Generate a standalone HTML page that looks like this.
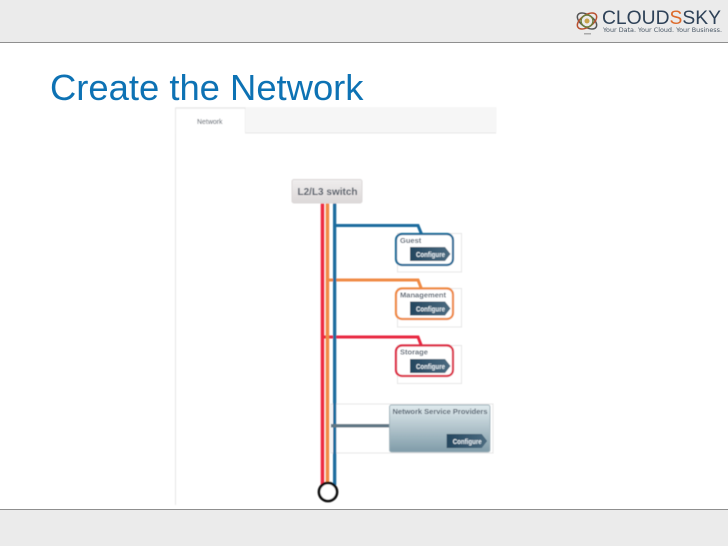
<!DOCTYPE html>
<html><head><meta charset="utf-8"><style>
html,body{margin:0;padding:0;background:#fff}
svg{display:block}
text{font-family:"Liberation Sans",sans-serif}
</style></head><body>
<svg width="728" height="546" viewBox="0 0 728 546" xmlns="http://www.w3.org/2000/svg">
<defs>
<filter id="b5" x="-5%" y="-5%" width="110%" height="110%"><feGaussianBlur stdDeviation="0.4"/></filter>
<filter id="b3" x="-5%" y="-5%" width="110%" height="110%"><feGaussianBlur stdDeviation="0.3"/></filter>
<linearGradient id="sw" x1="0" y1="0" x2="0" y2="1"><stop offset="0" stop-color="#efeded"/><stop offset="1" stop-color="#dcd8d8"/></linearGradient>
<linearGradient id="nsp" x1="0" y1="0" x2="0" y2="1"><stop offset="0" stop-color="#e0eaed"/><stop offset="1" stop-color="#7f9ba8"/></linearGradient>
<linearGradient id="btn" x1="0" y1="0" x2="1" y2="0"><stop offset="0" stop-color="#24465f"/><stop offset="1" stop-color="#4b6b80"/></linearGradient>
<g id="cfg"><path d="M0 0H35L40.500 7L35 14H0Z" fill="url(#btn)"/><text x="6" y="10" font-size="7.500" font-weight="bold" fill="#e6eef3" textLength="29" lengthAdjust="spacingAndGlyphs">Configure</text></g>
</defs>
<rect width="728" height="42" fill="#ebebeb"/>
<rect y="42" width="728" height="1" fill="#8f8f8f"/>
<rect y="509" width="728" height="37" fill="#ebebeb"/>
<rect y="509" width="728" height="1" fill="#8f8f8f"/>

<text x="50" y="100" font-size="36.400" fill="#0f72b4" filter="url(#b3)">Create the Network</text>

<!-- logo -->
<g filter="url(#b3)">
<g fill="none" stroke-width="1.500">
<ellipse cx="587" cy="21" rx="11" ry="6" stroke="#555" transform="rotate(35 587 21)"/>
<ellipse cx="587" cy="21" rx="11" ry="6" stroke="#b9502f" transform="rotate(-35 587 21)"/>
<circle cx="587" cy="21" r="6" stroke="#6c7f3c"/>
</g>
<circle cx="587" cy="21" r="2.500" fill="#c8a24a"/>
<rect x="584" y="33" width="7" height="1.500" fill="#aaa"/>
<text x="602" y="24" font-size="19.500" fill="#2f4258" textLength="119" lengthAdjust="spacingAndGlyphs">CLOUD<tspan fill="#dd6a2a">S</tspan>SKY</text>
<text x="603" y="32" font-size="6" fill="#4a5866" style="font-family:'DejaVu Sans',sans-serif" textLength="119" lengthAdjust="spacingAndGlyphs">Your Data. Your Cloud. Your Business.</text>
</g>

<g filter="url(#b5)">
<!-- panel -->
<rect x="175.500" y="107" width="321" height="26" fill="#f6f6f6"/>
<path d="M175.500 505V108H245V133H496" fill="none" stroke="#e6e6e6"/>
<rect x="176" y="109" width="69" height="25" fill="#fff"/>
<text x="197" y="124" font-size="7" fill="#46505c" textLength="25.500" lengthAdjust="spacingAndGlyphs">Network</text>

<!-- white cards -->
<rect x="397.500" y="233.500" width="64" height="38.500" fill="#fff" stroke="#e6e6e6"/>
<rect x="397.500" y="288.500" width="64" height="38.500" fill="#fff" stroke="#e6e6e6"/>
<rect x="397.500" y="345.500" width="64" height="38" fill="#fff" stroke="#e6e6e6"/>
<rect x="331" y="404" width="162" height="49" fill="#fff" stroke="#e6e6e6"/>

<!-- lines -->
<path d="M335 225.500H418L421.500 234" fill="none" stroke="#1c6c9e" stroke-width="3"/>
<path d="M328 280H418L421.500 289" fill="none" stroke="#f08a45" stroke-width="3"/>
<path d="M322 337H418L421.500 346" fill="none" stroke="#e8283f" stroke-width="3"/>
<rect x="320.700" y="203" width="3.500" height="282" fill="#ee2b3f"/>
<rect x="325.700" y="203" width="3.500" height="282" fill="#f08a45"/>
<rect x="333" y="203" width="3.300" height="282" fill="#1c6c9e"/>
<rect x="331" y="424" width="60" height="3.500" fill="#5f7684"/>
<circle cx="328" cy="492" r="9" fill="#fff" stroke="#111" stroke-width="2.800"/>

<!-- switch -->
<rect x="292" y="179.500" width="70" height="23.500" rx="2" fill="url(#sw)" stroke="#dcd8d8"/>
<text x="297.500" y="195" font-size="10" font-weight="bold" fill="#4c5562" textLength="60" lengthAdjust="spacingAndGlyphs">L2/L3 switch</text>

<!-- nodes -->
<rect x="396" y="234" width="57" height="31" rx="6" fill="#fff" stroke="#1f6a96" stroke-width="2.200"/>
<text x="400" y="243" font-size="7.500" font-weight="bold" fill="#566270">Guest</text>
<use href="#cfg" x="410" y="247"/>

<rect x="396" y="288.500" width="57" height="30.500" rx="6" fill="#fff" stroke="#ee8840" stroke-width="2.200"/>
<text x="400" y="297.500" font-size="7.500" font-weight="bold" fill="#566270" textLength="46" lengthAdjust="spacingAndGlyphs">Management</text>
<use href="#cfg" x="410" y="301.500"/>

<rect x="396" y="345.500" width="57" height="30.500" rx="6" fill="#fff" stroke="#dc2a42" stroke-width="2.200"/>
<text x="400" y="354.500" font-size="7.500" font-weight="bold" fill="#566270">Storage</text>
<use href="#cfg" x="410" y="359"/>

<rect x="389.500" y="405" width="100.500" height="47" rx="2" fill="url(#nsp)" stroke="#9fb3bc"/>
<text x="392.500" y="414" font-size="7.500" font-weight="bold" fill="#566472" textLength="95" lengthAdjust="spacingAndGlyphs">Network Service Providers</text>
<use href="#cfg" x="446.700" y="434"/>
</g>
</svg>
</body></html>
